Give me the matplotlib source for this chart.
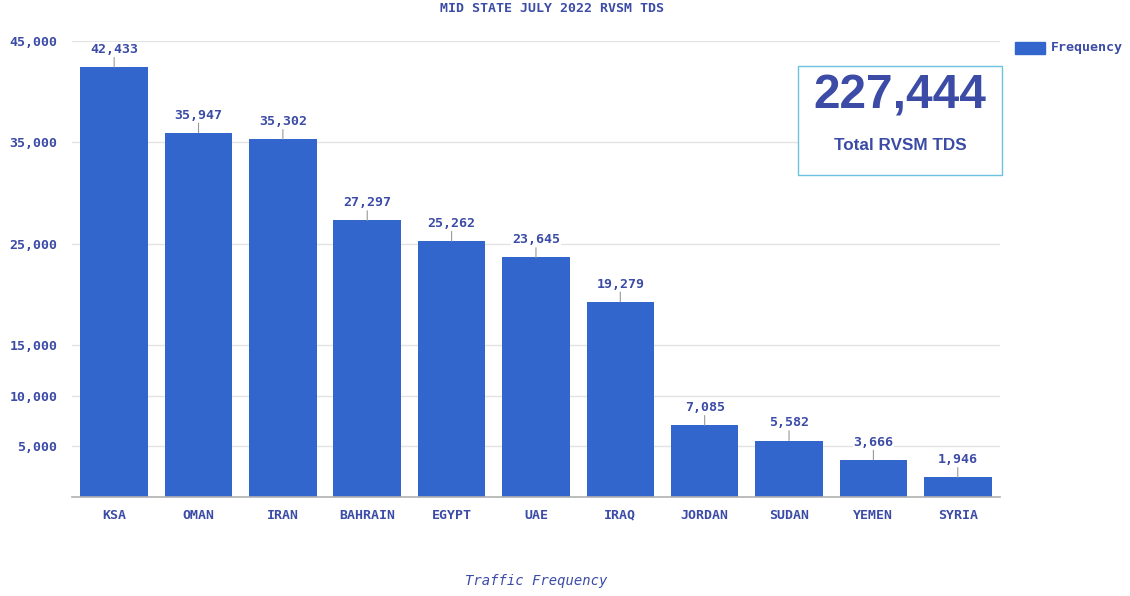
import matplotlib.pyplot as plt
from matplotlib.patches import Rectangle

countries = ['KSA', 'OMAN', 'IRAN', 'BAHRAIN', 'EGYPT', 'UAE', 'IRAQ',
             'JORDAN', 'SUDAN', 'YEMEN', 'SYRIA']
frequency = [42433, 35947, 35302, 27297, 25262, 23645, 19279,
             7085, 5582, 3666, 1946]
y_ticks = [5000, 10000, 15000, 25000, 35000, 45000]
total = sum(frequency)

bar_color = '#3366cc'
text_color = '#3b4ba6'
mono = 'DejaVu Sans Mono'

fig = plt.figure(figsize=(11.3, 5.96), dpi=100)
ax = fig.add_axes([0.0637, 0.166, 0.8212, 0.765])

x = range(len(countries))
ax.bar(x, frequency, width=0.8, color=bar_color, zorder=2)

ax.set_xlim(-0.5, len(countries) - 0.5)
ax.set_ylim(0, 45000)
ax.set_yticks(y_ticks)
ax.set_yticklabels([f'{v:,}' for v in y_ticks])
ax.set_xticks(list(x))
ax.set_xticklabels(countries)
for lab in ax.get_xticklabels() + ax.get_yticklabels():
    lab.set_fontfamily(mono)
    lab.set_fontweight('bold')
    lab.set_fontsize(9.5)
    lab.set_color(text_color)
ax.tick_params(axis='both', length=0)
ax.tick_params(axis='x', pad=8.5)
ax.tick_params(axis='y', pad=10.5)

ax.grid(axis='y', color='#e3e3e3', linewidth=1, zorder=0)
for s in ['top', 'right', 'left']:
    ax.spines[s].set_visible(False)
ax.spines['bottom'].set_color('#b0b0b0')
ax.spines['bottom'].set_linewidth(1.2)

# value labels with small leader lines
for i, v in enumerate(frequency):
    ax.annotate(f'{v:,}', xy=(i, v), xytext=(0, 8), textcoords='offset points',
                ha='center', va='bottom', fontfamily=mono, fontweight='bold',
                fontsize=9.5, color=text_color, zorder=4,
                bbox=dict(boxstyle='square,pad=0.05', fc='white', ec='none'))
    ax.annotate('', xy=(i, v), xytext=(0, 7), textcoords='offset points',
                arrowprops=dict(arrowstyle='-', color='#999999', lw=0.8,
                                shrinkA=0, shrinkB=0), zorder=5)

fig.text(0.4885, 0.996, 'MID STATE JULY 2022 RVSM TDS', ha='center', va='top',
         fontfamily=mono, fontweight='bold', fontsize=9.5, color=text_color)
fig.text(0.4743, 0.025, 'Traffic Frequency', ha='center', va='center',
         fontfamily=mono, fontstyle='italic', fontsize=10, color=text_color)

# legend
fig.patches.append(Rectangle((1015 / 1130, 1 - 54 / 596), 30 / 1130, 12 / 596,
                             transform=fig.transFigure, color=bar_color))
fig.text(1051 / 1130, 1 - 48 / 596, 'Frequency', ha='left', va='center',
         fontfamily=mono, fontweight='bold', fontsize=9.5, color=text_color)

# total box
fig.patches.append(Rectangle((798 / 1130, 1 - 175 / 596), 204 / 1130, 109 / 596,
                             transform=fig.transFigure, fc='white',
                             ec='#6cc3e0', lw=1, zorder=5))
fig.text(900 / 1130, 1 - 96 / 596, f'{total:,}', ha='center', va='center',
         fontfamily='Liberation Sans', fontweight='bold', fontsize=34.5,
         color=text_color, zorder=6)
fig.text(900 / 1130, 1 - 145 / 596, 'Total RVSM TDS', ha='center', va='center',
         fontfamily='Liberation Sans', fontweight='bold', fontsize=12.3,
         color=text_color, zorder=6)

fig.savefig('out.png', dpi=100, facecolor='white')
